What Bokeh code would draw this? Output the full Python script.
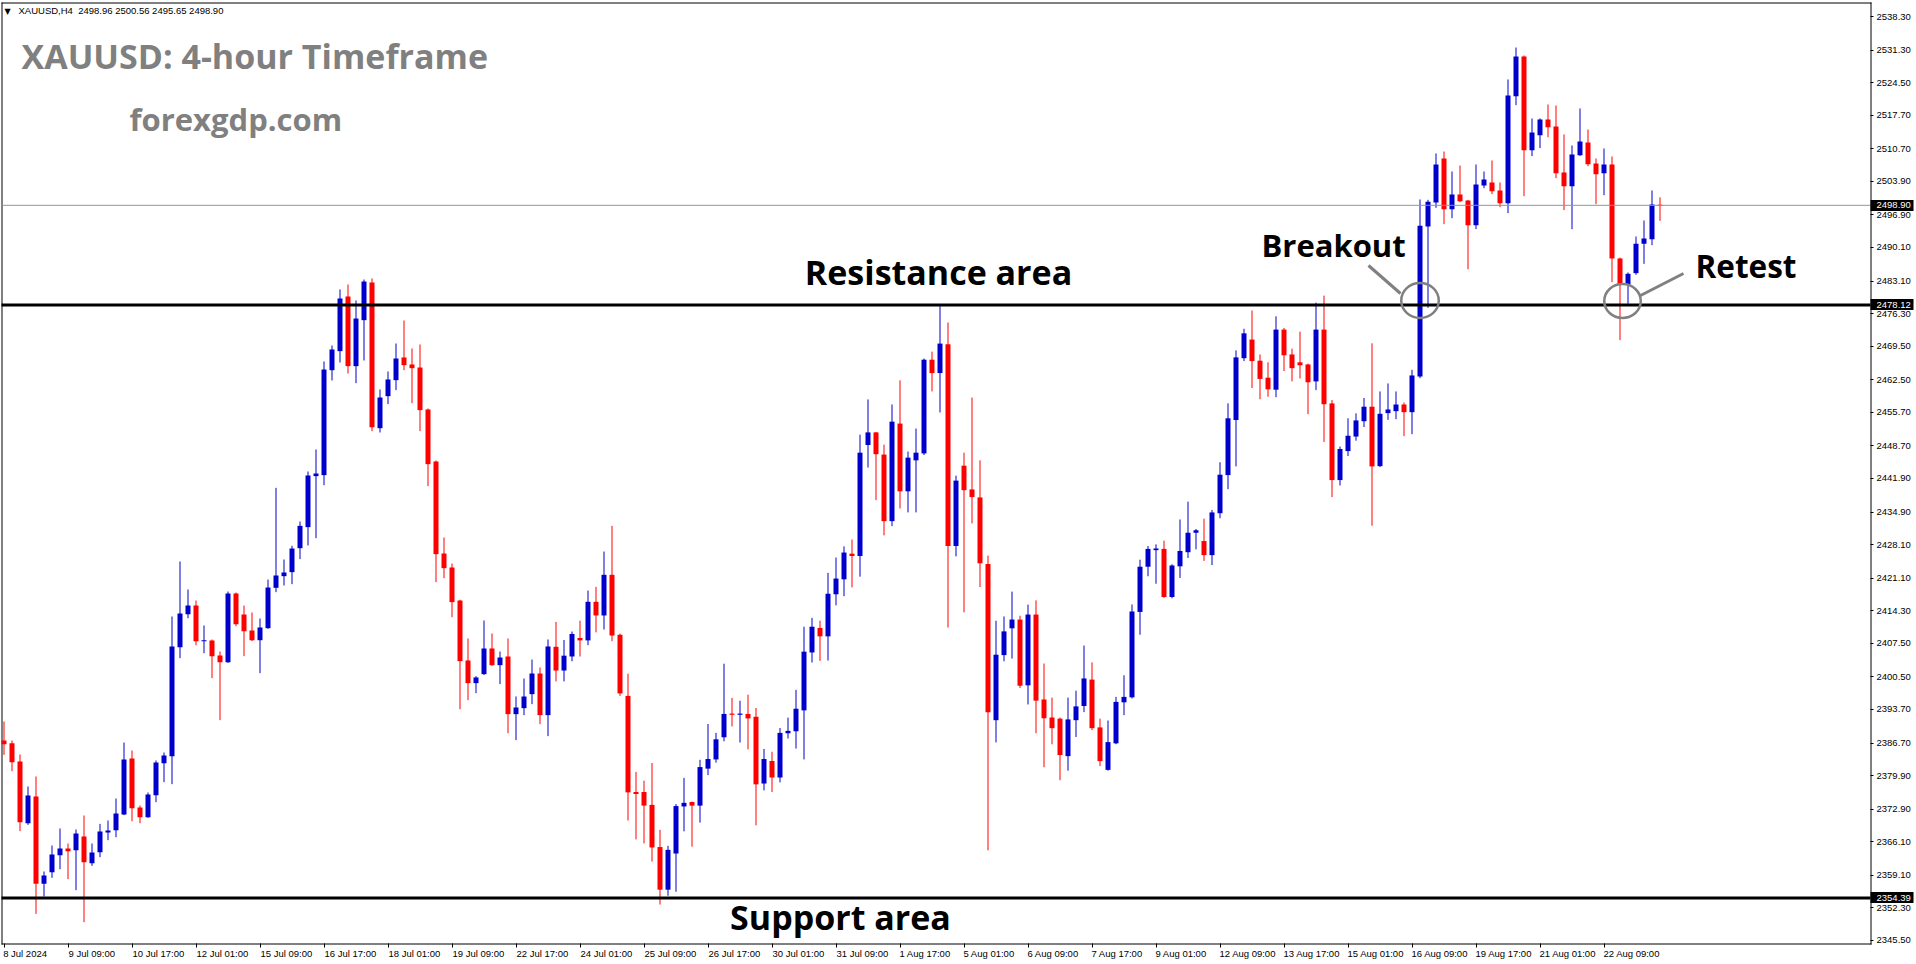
from bokeh.plotting import figure
from bokeh.models import Range1d, FixedTicker, NumeralTickFormatter, Label, ColumnDataSource, LinearAxis
from bokeh.embed import file_html
from bokeh.resources import INLINE

# ---------------- data (XAUUSD H4) ----------------
OPEN = [2387.23, 2386.67, 2382.85, 2369.98, 2375.55, 2357.32, 2359.76, 2363.30, 2364.70, 2364.35,
        2367.20, 2361.63, 2363.93, 2368.03, 2368.52, 2371.79, 2383.47, 2373.25, 2371.23, 2375.82,
        2382.50, 2383.96, 2406.70, 2413.59, 2415.40, 2407.96, 2408.10, 2404.96, 2403.57, 2417.90,
        2413.52, 2410.18, 2408.16, 2410.67, 2419.09, 2421.52, 2422.36, 2427.36, 2431.75, 2442.39,
        2442.60, 2464.50, 2468.47, 2479.88, 2465.34, 2474.94, 2482.80, 2452.40, 2459.08, 2462.42,
        2467.15, 2465.69, 2465.06, 2456.30, 2445.45, 2426.25, 2423.33, 2416.44, 2403.93, 2399.20,
        2401.08, 2406.43, 2402.95, 2404.76, 2392.73, 2393.98, 2396.90, 2401.21, 2392.52, 2406.78,
        2401.83, 2404.76, 2408.62, 2408.12, 2416.17, 2413.32, 2421.80, 2409.29, 2396.54, 2376.49,
        2376.49, 2373.80, 2365.00, 2356.10, 2363.65, 2373.47, 2374.39, 2373.64, 2381.36, 2383.28,
        2387.90, 2392.85, 2392.60, 2392.77, 2392.18, 2378.25, 2382.95, 2379.51, 2388.74, 2389.16,
        2393.52, 2405.60, 2410.72, 2408.96, 2417.74, 2420.86, 2426.21, 2425.73, 2448.89, 2451.52,
        2446.89, 2433.00, 2453.36, 2439.22, 2445.69, 2447.13, 2466.69, 2463.90, 2469.89, 2427.81,
        2444.57, 2439.62, 2437.95, 2424.05, 2391.47, 2405.05, 2410.64, 2412.47, 2398.74, 2413.51,
        2395.79, 2392.03, 2391.79, 2383.97, 2391.47, 2394.43, 2399.94, 2389.96, 2381.10, 2386.64,
        2395.20, 2396.24, 2414.06, 2423.49, 2426.95, 2427.21, 2417.17, 2423.58, 2426.52, 2430.58,
        2428.85, 2425.91, 2434.65, 2442.61, 2454.11, 2467.00, 2470.89, 2466.48, 2462.93, 2460.43,
        2472.97, 2467.78, 2466.14, 2465.70, 2462.16, 2472.97, 2457.57, 2441.57, 2447.62, 2450.65,
        2453.85, 2456.88, 2444.48, 2455.54, 2455.95, 2457.34, 2455.74, 2463.19, 2494.48, 2499.49,
        2508.67, 2498.10, 2501.16, 2499.91, 2494.76, 2503.04, 2503.66, 2502.00, 2499.35, 2521.68,
        2529.96, 2510.41, 2513.54, 2516.81, 2515.35, 2505.75, 2502.90, 2509.37, 2512.01, 2507.63,
        2505.61, 2507.42, 2487.81, 2482.38, 2484.75, 2490.87, 2491.84, 2498.96]
HIGH = [2391.19, 2387.23, 2384.31, 2377.63, 2379.72, 2359.90, 2365.32, 2368.87, 2365.74, 2368.66,
        2371.58, 2365.74, 2369.84, 2370.54, 2375.13, 2386.81, 2385.14, 2373.67, 2376.38, 2383.06,
        2384.73, 2413.10, 2424.58, 2418.74, 2416.44, 2411.22, 2408.30, 2405.80, 2418.32, 2418.11,
        2415.40, 2413.94, 2412.69, 2420.82, 2439.95, 2425.00, 2427.85, 2432.93, 2443.36, 2447.95,
        2466.31, 2469.65, 2481.34, 2482.38, 2479.04, 2483.42, 2483.63, 2460.47, 2464.23, 2470.07,
        2474.87, 2469.03, 2469.86, 2456.51, 2445.66, 2429.59, 2424.16, 2416.60, 2408.52, 2400.66,
        2412.27, 2409.56, 2405.80, 2408.52, 2396.41, 2400.17, 2404.13, 2402.47, 2408.31, 2411.98,
        2408.20, 2409.97, 2412.23, 2418.52, 2419.28, 2426.66, 2432.03, 2409.54, 2401.16, 2380.68,
        2378.84, 2382.53, 2368.60, 2365.25, 2373.97, 2379.43, 2374.50, 2383.20, 2390.67, 2388.82,
        2403.25, 2396.12, 2395.53, 2396.79, 2394.02, 2385.47, 2384.88, 2389.83, 2392.01, 2397.80,
        2410.97, 2412.82, 2412.23, 2422.21, 2425.41, 2427.73, 2429.16, 2451.04, 2458.39, 2451.60,
        2448.97, 2457.35, 2462.38, 2447.53, 2452.32, 2466.93, 2468.37, 2477.87, 2474.44, 2442.50,
        2447.29, 2458.79, 2445.69, 2425.81, 2412.23, 2413.11, 2418.30, 2413.27, 2415.59, 2416.47,
        2403.29, 2396.18, 2392.03, 2396.18, 2397.62, 2407.04, 2403.53, 2391.79, 2391.40, 2396.33,
        2400.83, 2415.62, 2424.96, 2427.81, 2428.16, 2428.94, 2424.01, 2433.35, 2437.07, 2431.36,
        2433.52, 2435.34, 2445.29, 2457.57, 2468.64, 2473.14, 2476.95, 2467.78, 2466.14, 2475.74,
        2473.32, 2468.99, 2472.54, 2465.87, 2478.59, 2480.06, 2458.26, 2448.57, 2454.46, 2455.50,
        2458.70, 2470.11, 2460.06, 2461.73, 2460.06, 2457.76, 2464.58, 2500.12, 2500.05, 2509.72,
        2510.13, 2505.96, 2507.21, 2500.05, 2507.42, 2505.96, 2508.26, 2503.66, 2525.16, 2531.83,
        2530.16, 2517.02, 2517.02, 2519.94, 2519.73, 2513.68, 2511.38, 2519.11, 2514.72, 2508.67,
        2510.76, 2509.09, 2488.00, 2484.89, 2492.40, 2495.74, 2502.00, 2500.56]
LOW = [2384.24, 2380.83, 2368.31, 2369.63, 2351.06, 2354.68, 2358.57, 2360.38, 2358.30, 2356.00,
       2349.32, 2361.08, 2362.89, 2366.43, 2367.06, 2371.65, 2370.40, 2369.98, 2371.10, 2374.36,
       2378.54, 2378.12, 2404.41, 2412.75, 2407.12, 2405.45, 2400.24, 2391.47, 2403.43, 2411.09,
       2404.83, 2407.96, 2401.28, 2410.53, 2418.18, 2419.57, 2419.85, 2425.07, 2427.92, 2429.45,
       2440.51, 2462.35, 2466.10, 2463.81, 2461.79, 2466.52, 2451.78, 2451.50, 2457.41, 2460.33,
       2464.50, 2457.62, 2451.78, 2440.30, 2420.27, 2421.10, 2412.97, 2393.77, 2395.65, 2397.11,
       2400.90, 2402.80, 2398.99, 2388.76, 2387.30, 2392.52, 2394.81, 2390.64, 2388.14, 2399.56,
       2399.56, 2403.76, 2404.76, 2407.11, 2409.80, 2410.39, 2407.95, 2396.54, 2370.53, 2366.59,
       2365.75, 2361.98, 2353.00, 2354.84, 2355.68, 2368.27, 2365.08, 2370.11, 2380.01, 2382.61,
       2387.06, 2390.17, 2386.81, 2385.38, 2369.53, 2376.83, 2376.49, 2378.50, 2387.65, 2385.55,
       2383.28, 2403.50, 2403.84, 2403.92, 2415.43, 2417.34, 2419.18, 2421.42, 2444.18, 2437.39,
       2430.04, 2431.96, 2435.63, 2434.83, 2434.83, 2446.81, 2460.07, 2455.67, 2410.80, 2425.65,
       2413.99, 2432.52, 2419.26, 2364.32, 2386.84, 2403.77, 2404.33, 2398.18, 2394.75, 2388.76,
       2381.65, 2386.44, 2378.94, 2380.93, 2387.96, 2393.15, 2389.40, 2381.89, 2380.93, 2386.46,
       2392.52, 2396.00, 2409.30, 2421.50, 2419.94, 2417.00, 2416.91, 2421.15, 2425.31, 2427.12,
       2424.70, 2423.83, 2433.61, 2439.67, 2444.42, 2466.40, 2460.77, 2458.44, 2458.96, 2458.87,
       2464.32, 2462.16, 2462.76, 2455.32, 2460.34, 2449.53, 2438.02, 2440.44, 2446.58, 2449.79,
       2452.64, 2432.05, 2444.30, 2454.14, 2454.28, 2450.74, 2451.15, 2462.84, 2477.51, 2498.38,
       2494.97, 2496.22, 2499.56, 2485.58, 2493.93, 2502.48, 2501.23, 2498.52, 2497.27, 2519.80,
       2500.81, 2509.16, 2510.83, 2513.12, 2504.57, 2497.89, 2493.93, 2509.20, 2507.07, 2499.14,
       2501.02, 2482.87, 2470.77, 2478.35, 2484.40, 2486.69, 2490.59, 2495.65]
CLOSE = [2386.46, 2382.71, 2370.19, 2375.75, 2357.32, 2359.06, 2363.44, 2364.70, 2364.14, 2367.82,
         2361.84, 2363.86, 2368.24, 2368.45, 2372.00, 2383.26, 2373.11, 2371.23, 2375.96, 2382.64,
         2384.10, 2406.84, 2413.73, 2415.40, 2407.96, 2408.16, 2404.83, 2403.57, 2417.90, 2411.50,
         2410.04, 2408.16, 2410.81, 2419.15, 2421.66, 2422.29, 2427.29, 2432.02, 2442.53, 2442.94,
         2464.64, 2468.82, 2479.46, 2465.34, 2475.28, 2483.00, 2452.61, 2458.80, 2462.56, 2466.94,
         2465.55, 2464.92, 2456.16, 2444.89, 2426.11, 2423.19, 2416.10, 2403.79, 2399.20, 2400.38,
         2406.43, 2402.95, 2404.55, 2392.73, 2394.12, 2396.41, 2401.21, 2392.52, 2406.85, 2401.83,
         2404.93, 2409.46, 2408.12, 2416.17, 2413.32, 2421.80, 2409.13, 2397.05, 2376.41, 2376.07,
         2373.64, 2364.91, 2356.10, 2364.41, 2373.55, 2374.22, 2373.64, 2381.69, 2383.37, 2387.48,
         2392.77, 2392.60, 2392.85, 2391.84, 2378.08, 2383.37, 2379.51, 2388.82, 2389.24, 2393.86,
         2405.77, 2410.97, 2408.96, 2417.85, 2421.02, 2426.45, 2425.73, 2447.29, 2451.52, 2446.97,
         2433.00, 2453.76, 2439.22, 2446.25, 2447.29, 2466.69, 2463.90, 2470.05, 2427.81, 2441.46,
         2439.46, 2438.03, 2424.21, 2393.15, 2405.13, 2410.00, 2412.47, 2398.66, 2413.51, 2395.55,
         2391.87, 2389.80, 2384.21, 2391.63, 2394.35, 2400.18, 2389.80, 2382.93, 2386.90, 2395.29,
         2396.33, 2414.15, 2423.49, 2427.21, 2427.30, 2417.17, 2423.75, 2426.78, 2430.58, 2431.10,
         2425.91, 2434.82, 2442.69, 2454.46, 2467.17, 2472.19, 2466.40, 2462.68, 2460.51, 2472.97,
         2467.61, 2464.92, 2465.53, 2461.98, 2472.97, 2457.40, 2441.57, 2448.06, 2450.82, 2454.02,
         2456.88, 2444.42, 2455.40, 2456.30, 2457.34, 2455.74, 2463.40, 2494.62, 2499.63, 2507.42,
         2498.10, 2501.16, 2499.77, 2494.76, 2503.25, 2504.29, 2501.86, 2499.35, 2521.82, 2529.96,
         2510.41, 2514.10, 2516.81, 2515.21, 2505.61, 2502.90, 2509.51, 2512.22, 2507.49, 2505.40,
         2507.42, 2487.81, 2482.38, 2484.61, 2490.87, 2491.98, 2499.07, 2498.90]

X_TICK_BARS = [0, 8, 16, 24, 32, 40, 48, 56, 64, 72, 80, 88, 96, 104, 112, 120, 128,
               136, 144, 152, 160, 168, 176, 184, 192, 200]
X_TICK_LABELS = ["8 Jul 2024", "9 Jul 09:00", "10 Jul 17:00", "12 Jul 01:00", "15 Jul 09:00",
                 "16 Jul 17:00", "18 Jul 01:00", "19 Jul 09:00", "22 Jul 17:00", "24 Jul 01:00",
                 "25 Jul 09:00", "26 Jul 17:00", "30 Jul 01:00", "31 Jul 09:00", "1 Aug 17:00",
                 "5 Aug 01:00", "6 Aug 09:00", "7 Aug 17:00", "9 Aug 01:00", "12 Aug 09:00",
                 "13 Aug 17:00", "15 Aug 01:00", "16 Aug 09:00", "19 Aug 17:00", "21 Aug 01:00",
                 "22 Aug 09:00"]
Y_TICKS = [2538.30, 2531.30, 2524.50, 2517.70, 2510.70, 2503.90, 2496.90, 2490.10, 2483.10,
           2476.30, 2469.50, 2462.50, 2455.70, 2448.70, 2441.90, 2434.90, 2428.10, 2421.10,
           2414.30, 2407.50, 2400.50, 2393.70, 2386.70, 2379.90, 2372.90, 2366.10, 2359.10,
           2352.30, 2345.50]
RESISTANCE = 2478.12
SUPPORT = 2354.39
LAST_PRICE = 2498.90
HEADER = "XAUUSD,H4 \u00a02498.96 2500.56 2495.65 2498.90"

# ---------------- layout helpers (pixel geometry) ----------------
W, H = 1916, 964
CL, CT, CR, CB = 1, 2, 1870, 943      # chart box inside the canvas (MT4 window)
BAR_PX = 8.0
BAR0_PX = 3.5
P_REF, PY_REF, PX_PER_USD = 2538.30, 16.0, 4.7925


def xd(px):
    return (px - BAR0_PX) / BAR_PX


def yd(py):
    return P_REF - (py - PY_REF) / PX_PER_USD


BLUE = "#0000CC"
RED = "#FF0000"
GRAY = "#808080"
AX_FONT = "Liberation Sans"
AX_SIZE = "9.5px"
ANN_FONT = "Open Sans"

# the Bokeh frame spans the whole canvas; axes are pinned at the chart box edges
p = figure(width=W, height=H, output_backend="svg", toolbar_location=None,
           x_range=Range1d(xd(0), xd(W)), y_range=Range1d(yd(H), yd(0)),
           min_border_left=0, min_border_top=0, min_border_right=0, min_border_bottom=0,
           y_axis_location="right")
p.grid.visible = False
p.outline_line_color = None
p.background_fill_color = "white"
p.border_fill_color = "white"

# x axis: MT4 labels start at the tick -> pad with leading no-break spaces
EM = {" ": 0.278, ":": 0.278, "J": 0.5, "u": 0.556, "l": 0.222, "A": 0.667, "g": 0.556}


def left_anchor(s, first=False):
    if first:  # the first label is pushed inside the canvas by Bokeh anyway
        return "\u00a0" + s
    w = sum(EM.get(ch, 0.556) for ch in s)
    return "\u00a0" * int(round(w / 0.278)) + s


xa = p.xaxis[0]
xa.fixed_location = yd(CB)
xa.ticker = FixedTicker(ticks=X_TICK_BARS)
xa.major_label_overrides = {b: left_anchor(t, k == 0)
                            for k, (b, t) in enumerate(zip(X_TICK_BARS, X_TICK_LABELS))}
xa.major_label_text_font = AX_FONT
xa.major_label_text_font_size = AX_SIZE
xa.major_label_text_color = "black"
xa.major_label_standoff = 0
xa.major_tick_out = 4
xa.major_tick_in = 0
xa.minor_tick_out = 0
xa.minor_tick_in = 0
xa.axis_line_color = None
xa.major_tick_line_color = "black"

ya = p.yaxis[0]
ya.fixed_location = xd(CR)
ya.ticker = FixedTicker(ticks=Y_TICKS)
ya.formatter = NumeralTickFormatter(format="0.00")
ya.major_label_text_font = AX_FONT
ya.major_label_text_font_size = AX_SIZE
ya.major_label_text_color = "black"
ya.major_label_standoff = 3
ya.major_tick_out = 3
ya.major_tick_in = 0
ya.minor_tick_out = 0
ya.minor_tick_in = 0
ya.axis_line_color = None
ya.major_tick_line_color = "black"

# price tags (black boxes with white text): a second axis pinned at the same place.
# The box is a long, thick minor tick; labels are pulled back inside it.
LEVELS = [LAST_PRICE, RESISTANCE, SUPPORT]
TAG_LEN = 43
tag_axis = LinearAxis(fixed_location=xd(CR),
                      ticker=FixedTicker(ticks=LEVELS, minor_ticks=[v + 0.0001 for v in LEVELS]),
                      formatter=NumeralTickFormatter(format="0.00"),
                      axis_line_color=None,
                      major_tick_out=3, major_tick_in=0, major_tick_line_color=None,
                      minor_tick_out=TAG_LEN, minor_tick_in=0, minor_tick_line_color="black",
                      minor_tick_line_width=11,
                      major_label_text_color="white", major_label_text_font=AX_FONT,
                      major_label_text_font_size=AX_SIZE, major_label_standoff=6 - TAG_LEN)
p.right = list(p.right) + [tag_axis]

# chart window border
p.segment(x0=[xd(CL), xd(CL + 0.5), xd(CL), xd(CR + 0.5)],
          y0=[yd(CT + 0.5), yd(CT), yd(CB + 0.5), yd(CT)],
          x1=[xd(CR + 1), xd(CL + 0.5), xd(CR + 1), xd(CR + 0.5)],
          y1=[yd(CT + 0.5), yd(CB + 1), yd(CB + 0.5), yd(CB + 1)],
          line_color="black", line_width=1)

# ---------------- candles ----------------
n = len(OPEN)
idx = list(range(n))
colors = [BLUE if c >= o else RED for o, c in zip(OPEN, CLOSE)]
min_h = 1.0 / PX_PER_USD
tops, bots = [], []
for o, c in zip(OPEN, CLOSE):
    t, b = max(o, c), min(o, c)
    if t - b < min_h:
        m = (t + b) / 2
        t, b = m + min_h / 2, m - min_h / 2
    tops.append(t)
    bots.append(b)

src = ColumnDataSource(dict(x=idx, high=HIGH, low=LOW, top=tops, bot=bots, color=colors))
p.segment(x0="x", y0="low", x1="x", y1="high", line_color="color", line_width=1, source=src)
p.vbar(x="x", width=5.0 / BAR_PX, top="top", bottom="bot", fill_color="color",
       line_color=None, source=src)

# ---------------- levels (end at the price scale) ----------------
p.segment(x0=[xd(CL)], y0=[LAST_PRICE], x1=[xd(CR)], y1=[LAST_PRICE],
          line_color="#8A97A3", line_width=1)
p.segment(x0=[xd(CL), xd(CL)], y0=[RESISTANCE, SUPPORT], x1=[xd(CR), xd(CR)],
          y1=[RESISTANCE, SUPPORT], line_color="black", line_width=3)

# ---------------- header & titles ----------------
p.add_layout(Label(x=xd(4), y=yd(10.5), text="\u25bc", text_font="DejaVu Sans",
                   text_font_size="8px", text_color="black", text_baseline="alphabetic"))
p.add_layout(Label(x=xd(18), y=yd(10), text=HEADER, text_font=AX_FONT,
                   text_font_size=AX_SIZE, text_color="black", text_baseline="alphabetic"))
p.add_layout(Label(x=xd(21), y=yd(55), text="XAUUSD: 4-hour Timeframe", text_font=ANN_FONT,
                   text_font_style="bold", text_font_size="34px", text_color=GRAY,
                   text_baseline="alphabetic"))
p.add_layout(Label(x=xd(129), y=yd(118), text="forexgdp.com", text_font=ANN_FONT,
                   text_font_style="bold", text_font_size="31px", text_color=GRAY,
                   text_baseline="alphabetic"))

p.add_layout(Label(x=xd(938), y=yd(271), text="Resistance area", text_font=ANN_FONT,
                   text_font_style="bold", text_font_size="34px", text_color="black",
                   text_align="center", text_baseline="alphabetic"))
p.add_layout(Label(x=xd(840), y=yd(916), text="Support area", text_font=ANN_FONT,
                   text_font_style="bold", text_font_size="34px", text_color="black",
                   text_align="center", text_baseline="alphabetic"))
p.add_layout(Label(x=xd(1261), y=yd(244), text="Breakout", text_font=ANN_FONT,
                   text_font_style="bold", text_font_size="31px", text_color="black",
                   text_baseline="alphabetic"))
p.add_layout(Label(x=xd(1695), y=yd(265), text="Retest", text_font=ANN_FONT,
                   text_font_style="bold", text_font_size="31.5px", text_color="black",
                   text_baseline="alphabetic"))

# circles + connectors
p.ellipse(x=[xd(1419.5), xd(1622)], y=[yd(300), yd(300.5)],
          width=[37.5 / BAR_PX, 36.5 / BAR_PX], height=[35 / PX_PER_USD, 34 / PX_PER_USD],
          fill_color=None, line_color=GRAY, line_width=2.5)
p.segment(x0=[xd(1368), xd(1640)], y0=[yd(265), yd(295)],
          x1=[xd(1400), xd(1683)], y1=[yd(293), yd(273)],
          line_color=GRAY, line_width=3)

open("out.html", "w").write(file_html(p, INLINE))
